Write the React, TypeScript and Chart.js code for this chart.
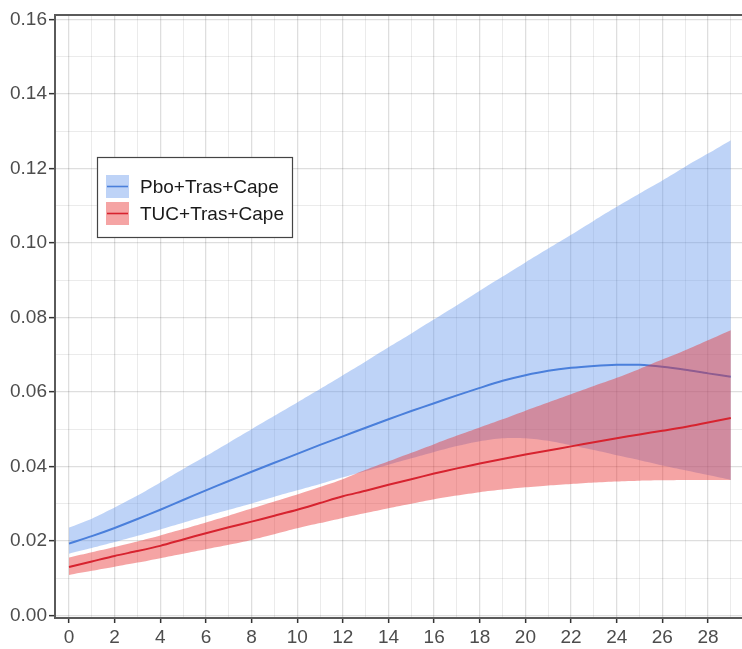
import React, { useEffect, useRef } from 'react';
import { Chart, registerables } from 'chart.js';

Chart.register(...registerables);

// ---- data ----
const days = [0, 1, 2, 3, 4, 5, 6, 7, 8, 9, 10, 11, 12, 13, 14, 15, 16, 17, 18, 19, 20, 21, 22, 23, 24, 25, 26, 27, 28, 29];

const seriesNames = ['Pbo+Tras+Cape', 'TUC+Tras+Cape'];

const pboMean = [0.0193, 0.0213, 0.0235, 0.0259, 0.0284, 0.031, 0.0336, 0.0361, 0.0386, 0.041, 0.0434, 0.0458, 0.0481, 0.0504, 0.0527, 0.0549, 0.057, 0.0591, 0.0611, 0.063, 0.0645, 0.0657, 0.0665, 0.067, 0.0673, 0.0673, 0.0668, 0.066, 0.065, 0.0641];
const pboUpper = [0.0236, 0.026, 0.029, 0.0322, 0.0357, 0.0393, 0.0428, 0.0464, 0.05, 0.0536, 0.0572, 0.0608, 0.0645, 0.0682, 0.072, 0.0757, 0.0795, 0.0833, 0.0872, 0.091, 0.0948, 0.0985, 0.1022, 0.106, 0.1097, 0.1133, 0.1168, 0.1205, 0.124, 0.1276];
const pboLower = [0.0166, 0.0181, 0.0197, 0.0214, 0.0231, 0.0249, 0.0267, 0.0284, 0.0301, 0.0319, 0.0336, 0.0353, 0.0371, 0.0388, 0.0405, 0.0422, 0.0439, 0.0455, 0.0468, 0.0476, 0.0476, 0.0469, 0.0457, 0.0444, 0.043, 0.0417, 0.0403, 0.039, 0.0377, 0.0364];

const tucMean = [0.013, 0.0145, 0.016, 0.0173, 0.0187, 0.0204, 0.0221, 0.0237, 0.0252, 0.0268, 0.0284, 0.0302, 0.032, 0.0335, 0.0351, 0.0366, 0.0381, 0.0395, 0.0408, 0.042, 0.0432, 0.0443, 0.0454, 0.0465, 0.0476, 0.0486, 0.0496, 0.0506, 0.0518, 0.053];
const tucUpper = [0.0156, 0.017, 0.0184, 0.0199, 0.0215, 0.0232, 0.025, 0.0268, 0.0287, 0.0306, 0.0325, 0.0345, 0.0366, 0.0391, 0.0414, 0.0437, 0.046, 0.0483, 0.0505, 0.0527, 0.055, 0.0572, 0.0594, 0.0616, 0.0638, 0.0662, 0.0687, 0.0712, 0.0739, 0.0766];
const tucLower = [0.0109, 0.012, 0.0131, 0.0142, 0.0154, 0.0166, 0.0178, 0.019, 0.0203, 0.0218, 0.0234, 0.0248, 0.0262, 0.0275, 0.0288, 0.03, 0.0312, 0.0322, 0.0331, 0.0338, 0.0344, 0.0349, 0.0353, 0.0357, 0.036, 0.0362, 0.0363, 0.0364, 0.0364, 0.0364];

const xTickValues = days;
const yTickValues = [0, 0.01, 0.02, 0.03, 0.04, 0.05, 0.06, 0.07, 0.08, 0.09, 0.1, 0.11, 0.12, 0.13, 0.14, 0.15, 0.16];

// ---- styles ----
const FONT = '"Liberation Sans", Arial, Helvetica, sans-serif';
const blueLine = '#4a7fdb';
const blueBand = 'rgba(100,150,235,0.42)';
const redLine = '#d7232f';
const redBand = 'rgba(232,48,48,0.44)';
const axisColor = '#5a5a5a';
const tickText = '#4d4d4d';
const gridMajor = 'rgba(0,0,0,0.13)';
const gridMinor = 'rgba(0,0,0,0.08)';

const isMajorX = (v: number) => Math.round(v) % 2 === 0;
const isMajorY = (v: number) => Math.round(v * 100) % 2 === 0;

const pts = (arr: number[]) => days.map((d, i) => ({ x: d, y: arr[i] }));

const frameAndLegend = {
  id: 'frameAndLegend',
  afterDraw(chart: any) {
    const { ctx, chartArea } = chart;
    ctx.save();
    // top panel border
    ctx.strokeStyle = axisColor;
    ctx.lineWidth = 2;
    ctx.beginPath();
    ctx.moveTo(chartArea.left, chartArea.top);
    ctx.lineTo(chartArea.right, chartArea.top);
    ctx.stroke();

    // legend box
    const bx = chartArea.left + 42;
    const by = chartArea.top + 142;
    const bw = 195;
    const bh = 80;
    ctx.fillStyle = '#ffffff';
    ctx.fillRect(bx, by, bw, bh);
    ctx.strokeStyle = '#444444';
    ctx.lineWidth = 1.2;
    ctx.strokeRect(bx + 0.5, by + 0.5, bw, bh);

    const items = [
      { name: seriesNames[0], band: blueBand, line: blueLine },
      { name: seriesNames[1], band: redBand, line: redLine },
    ];
    items.forEach((it, i) => {
      const sx = bx + 9;
      const sy = by + 18 + i * 27;
      const s = 23;
      ctx.fillStyle = it.band;
      ctx.fillRect(sx, sy, s, s);
      ctx.strokeStyle = it.line;
      ctx.lineWidth = 1.6;
      ctx.beginPath();
      ctx.moveTo(sx + 1, sy + s / 2);
      ctx.lineTo(sx + s - 1, sy + s / 2);
      ctx.stroke();
      ctx.fillStyle = '#1a1a1a';
      ctx.font = `19px ${FONT}`;
      ctx.textBaseline = 'middle';
      ctx.textAlign = 'left';
      ctx.fillText(it.name, bx + 43, sy + s / 2 + 1);
    });
    ctx.restore();
  },
};

export default function App() {
  const ref = useRef<HTMLCanvasElement | null>(null);

  useEffect(() => {
    document.body.style.margin = '0';
    if (!ref.current) return;
    Chart.defaults.font.family = FONT;
    const tension = 0.25;
    const chart = new Chart(ref.current, {
      type: 'line',
      data: {
        datasets: [
          { label: seriesNames[1], data: pts(tucMean), borderColor: redLine, borderWidth: 2, pointRadius: 0, fill: false, tension },
          { label: seriesNames[1] + ' upper', data: pts(tucUpper), borderColor: 'rgba(0,0,0,0)', borderWidth: 0, backgroundColor: redBand, pointRadius: 0, fill: 2, tension },
          { label: seriesNames[1] + ' lower', data: pts(tucLower), borderColor: 'rgba(0,0,0,0)', borderWidth: 0, pointRadius: 0, fill: false, tension },
          { label: seriesNames[0], data: pts(pboMean), borderColor: blueLine, borderWidth: 2, pointRadius: 0, fill: false, tension },
          { label: seriesNames[0] + ' upper', data: pts(pboUpper), borderColor: 'rgba(0,0,0,0)', borderWidth: 0, backgroundColor: blueBand, pointRadius: 0, fill: 5, tension },
          { label: seriesNames[0] + ' lower', data: pts(pboLower), borderColor: 'rgba(0,0,0,0)', borderWidth: 0, pointRadius: 0, fill: false, tension },
        ],
      },
      options: {
        responsive: false,
        animation: false,
        layout: { padding: { top: 15, left: 0, right: 0, bottom: 0 } },
        plugins: {
          legend: { display: false },
          tooltip: { enabled: false },
        },
        scales: {
          x: {
            type: 'linear',
            min: -0.6135,
            max: 29.49,
            afterBuildTicks: (scale: any) => {
              scale.ticks = xTickValues.map((v) => ({ value: v }));
            },
            afterFit: (scale: any) => {
              scale.height = 31;
            },
            ticks: {
              autoSkip: false,
              maxRotation: 0,
              padding: 3,
              color: tickText,
              font: { size: 19, family: FONT },
              callback: (v: any) => (isMajorX(Number(v)) ? String(Math.round(Number(v))) : ''),
            },
            grid: {
              color: (c: any) => (c.tick && isMajorX(c.tick.value) ? gridMajor : gridMinor),
              lineWidth: (c: any) => (c.tick && isMajorX(c.tick.value) ? 1.3 : 1),
              tickColor: (c: any) => (c.tick && isMajorX(c.tick.value) ? '#333333' : 'rgba(0,0,0,0)'),
              tickLength: 5,
              tickWidth: 1.5,
            },
            border: { display: true, color: axisColor, width: 2 },
          },
          y: {
            type: 'linear',
            min: -0.00067,
            max: 0.16121,
            afterBuildTicks: (scale: any) => {
              scale.ticks = yTickValues.map((v) => ({ value: v }));
            },
            afterFit: (scale: any) => {
              scale.width = 55;
            },
            ticks: {
              autoSkip: false,
              padding: 2,
              color: tickText,
              font: { size: 19, family: FONT },
              callback: (v: any) => (isMajorY(Number(v)) ? Number(v).toFixed(2) : ''),
            },
            grid: {
              color: (c: any) => (c.tick && isMajorY(c.tick.value) ? gridMajor : gridMinor),
              lineWidth: (c: any) => (c.tick && isMajorY(c.tick.value) ? 1.3 : 1),
              tickColor: (c: any) => (c.tick && isMajorY(c.tick.value) ? '#333333' : 'rgba(0,0,0,0)'),
              tickLength: 6,
              tickWidth: 1.5,
            },
            border: { display: true, color: axisColor, width: 2 },
          },
        },
      },
      plugins: [frameAndLegend],
    });
    return () => chart.destroy();
  }, []);

  return (
    <div style={{ width: 742, height: 649, background: '#ffffff' }}>
      <canvas ref={ref} width={742} height={649} style={{ display: 'block', width: 742, height: 649 }} />
    </div>
  );
}
